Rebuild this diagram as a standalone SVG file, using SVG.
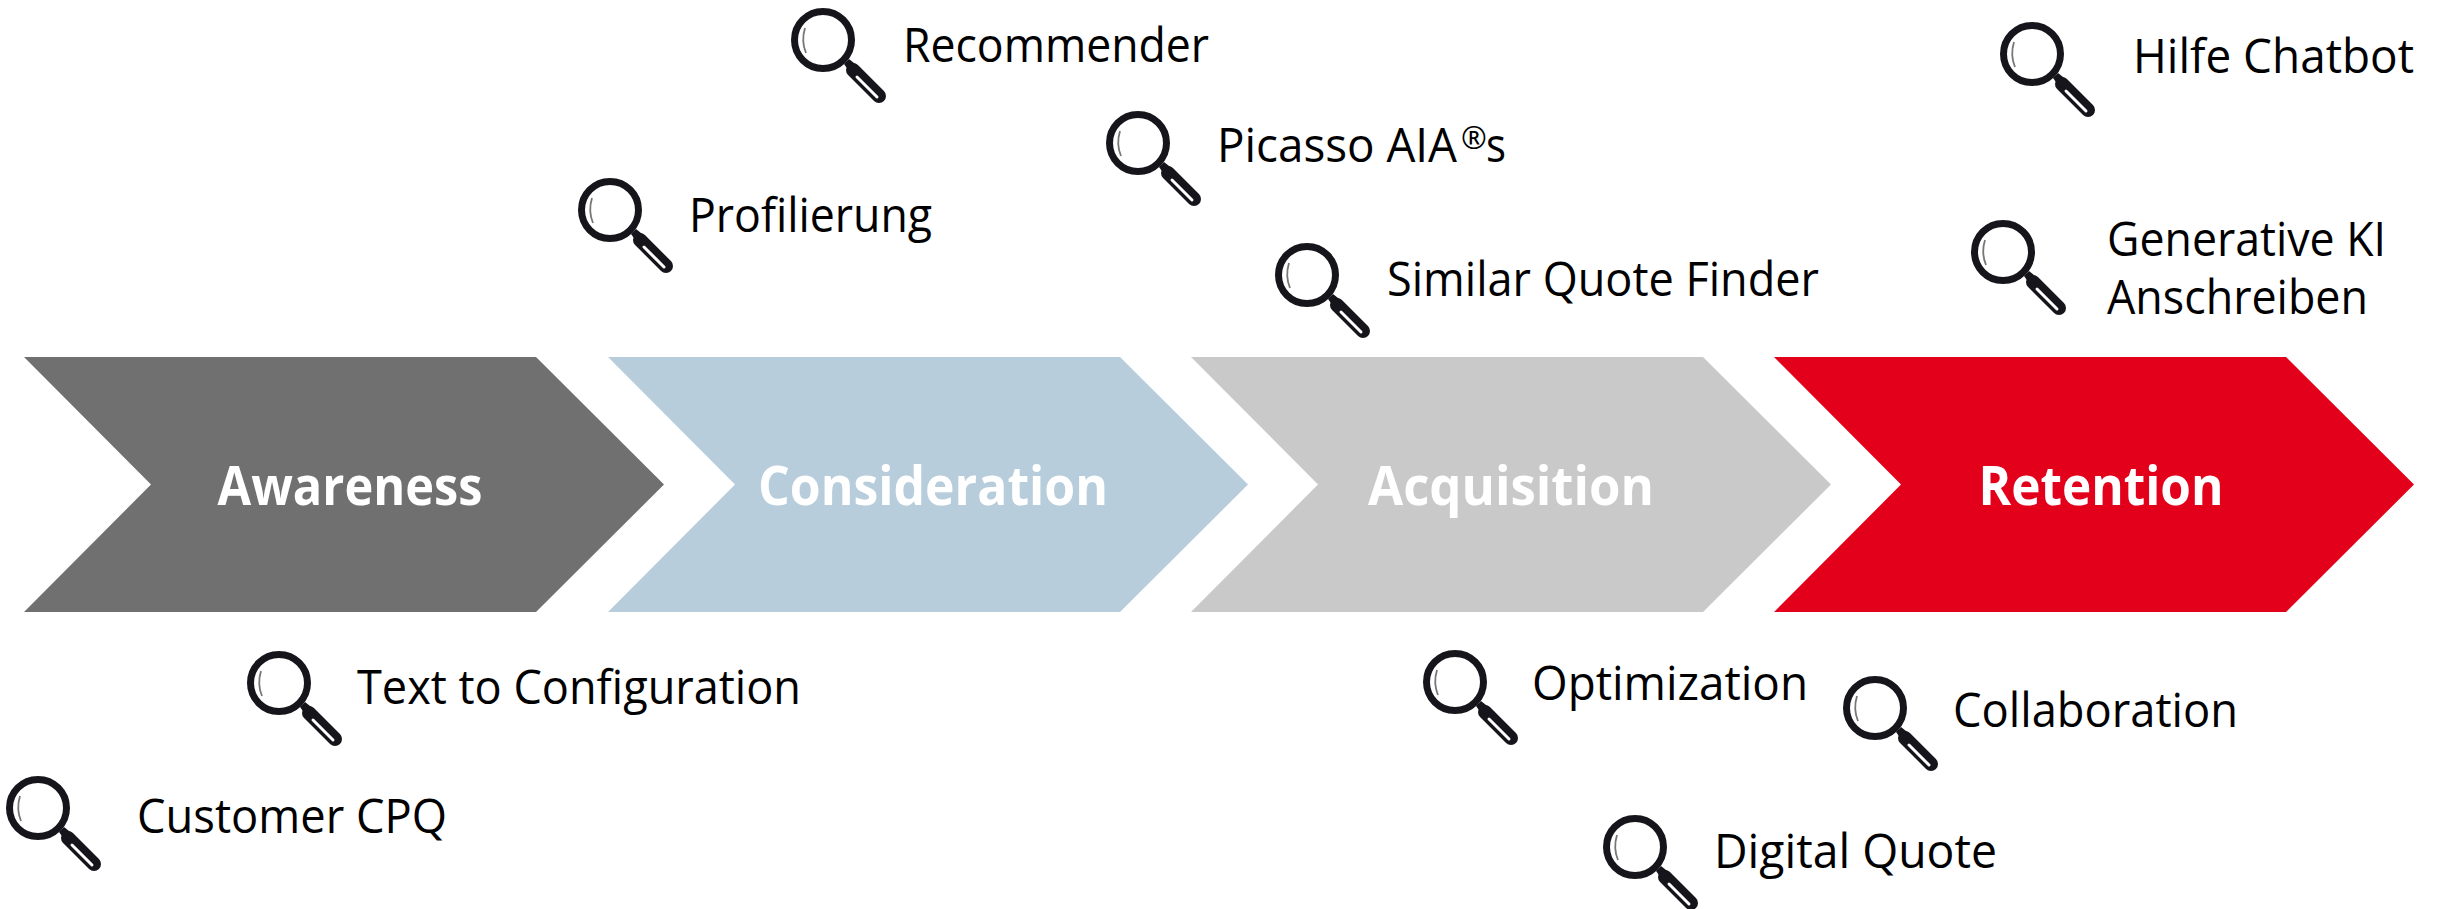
<svg xmlns="http://www.w3.org/2000/svg" width="2440" height="909" viewBox="0 0 2440 909">
<style>
text{font-family:"Open Sans","Noto Sans","Liberation Sans",sans-serif}
.l{font-size:48px;fill:#000}
.h{font-size:54px;font-weight:700;fill:#fff;text-anchor:middle}
</style>
<defs>
<g id="mag">
<circle r="28.500" fill="#fff" stroke="#15151b" stroke-width="7"/>
<path d="M-18-12Q-22 1-17 13" fill="none" stroke="#777" stroke-width="1.800"/>
<path d="M21 24L26 19L36 27L29 35Z" fill="#15151b"/>
<path d="M30 30L56 56" stroke="#15151b" stroke-width="14" stroke-linecap="round"/>
<path d="M34 37L54 57" stroke="#fff" stroke-width="3" stroke-linecap="round"/>
</g>
<path id="chev" d="M0 0H512L640 127.500L512 255H0L127 127.500Z"/>
</defs>
<g id="awareness"><use href="#chev" x="24" y="357" fill="#707070"/><text class="h" x="350" y="505" textLength="265" lengthAdjust="spacingAndGlyphs">Awareness</text></g>
<g id="consideration"><use href="#chev" x="608" y="357" fill="#b7cddb"/><text class="h" x="933" y="505" textLength="350" lengthAdjust="spacingAndGlyphs">Consideration</text></g>
<g id="acquisition"><use href="#chev" x="1191" y="357" fill="#c9c9c9"/><text class="h" x="1511" y="505" textLength="286" lengthAdjust="spacingAndGlyphs">Acquisition</text></g>
<g id="retention"><use href="#chev" x="1774" y="357" fill="#e2001a"/><text class="h" x="2101" y="505" textLength="245" lengthAdjust="spacingAndGlyphs">Retention</text></g>
<g id="customer-cpq"><use href="#mag" x="38" y="808"/><text class="l" x="137" y="833" textLength="310" lengthAdjust="spacingAndGlyphs">Customer CPQ</text></g>
<g id="text-to-configuration"><use href="#mag" x="279" y="683"/><text class="l" x="357" y="704" textLength="444" lengthAdjust="spacingAndGlyphs">Text to Configuration</text></g>
<g id="profilierung"><use href="#mag" x="610" y="210"/><text class="l" x="689" y="232" textLength="243" lengthAdjust="spacingAndGlyphs">Profilierung</text></g>
<g id="recommender"><use href="#mag" x="823" y="40"/><text class="l" x="903" y="62" textLength="306" lengthAdjust="spacingAndGlyphs">Recommender</text></g>
<g id="picasso"><use href="#mag" x="1138" y="143"/><text class="l" y="162"><tspan x="1217" textLength="240" lengthAdjust="spacingAndGlyphs">Picasso AIA</tspan><tspan x="1461" y="149" font-size="31">®</tspan><tspan x="1486" y="162" textLength="20" lengthAdjust="spacingAndGlyphs">s</tspan></text></g>
<g id="similar-quote-finder"><use href="#mag" x="1307" y="275"/><text class="l" x="1387" y="296" textLength="432" lengthAdjust="spacingAndGlyphs">Similar Quote Finder</text></g>
<g id="optimization"><use href="#mag" x="1455" y="682"/><text class="l" x="1532" y="700" textLength="276" lengthAdjust="spacingAndGlyphs">Optimization</text></g>
<g id="collaboration"><use href="#mag" x="1875" y="708"/><text class="l" x="1953" y="727" textLength="285" lengthAdjust="spacingAndGlyphs">Collaboration</text></g>
<g id="digital-quote"><use href="#mag" x="1635" y="847"/><text class="l" x="1714" y="868" textLength="283" lengthAdjust="spacingAndGlyphs">Digital Quote</text></g>
<g id="hilfe-chatbot"><use href="#mag" x="2032" y="54"/><text class="l" x="2133" y="73" textLength="281" lengthAdjust="spacingAndGlyphs">Hilfe Chatbot</text></g>
<g id="generative-ki"><use href="#mag" x="2003" y="252"/><text class="l" x="2107" y="256" textLength="279" lengthAdjust="spacingAndGlyphs">Generative KI</text><text class="l" x="2107" y="314" textLength="261" lengthAdjust="spacingAndGlyphs">Anschreiben</text></g>
<g id="connectors"/>
</svg>
